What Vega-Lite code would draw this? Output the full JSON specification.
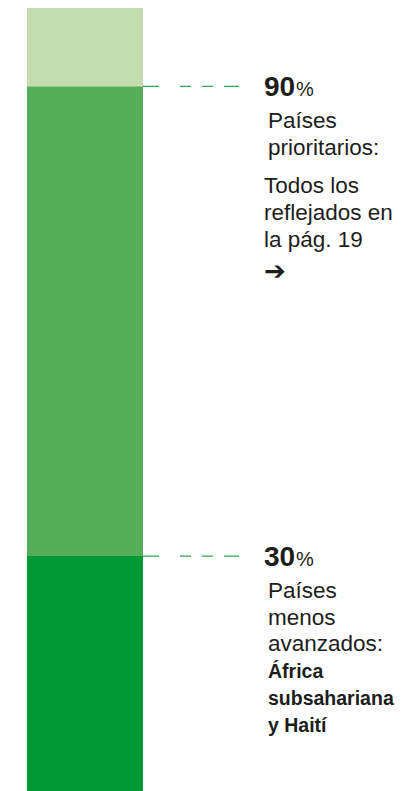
{
  "$schema": "https://vega.github.io/schema/vega-lite/v6.json",
  "width": 402,
  "height": 791,
  "autosize": {"type": "fit", "contains": "padding"},
  "padding": {"top": 8, "left": 0, "right": 0, "bottom": 0},
  "background": "white",
  "config": {"view": {"stroke": null}, "text": {"font": "Liberation Sans", "color": "#1d1d1b"}},
  "datasets": {
    "segments": [
      {"segment": "Países menos avanzados", "from": 0, "to": 30},
      {"segment": "Otros países prioritarios", "from": 30, "to": 90},
      {"segment": "Resto", "from": 90, "to": 100}
    ],
    "levels": [
      {"share": 90, "value": "90"},
      {"share": 30, "value": "30"}
    ],
    "notes": [
      {"share": 90, "role": "desc", "text": ["Países", "prioritarios:"]},
      {"share": 90, "role": "detail", "text": ["Todos los", "reflejados en", "la pág. 19"]},
      {"share": 90, "role": "arrow", "text": "➔"},
      {"share": 30, "role": "desc", "text": ["Países", "menos", "avanzados:"]},
      {"share": 30, "role": "emph", "text": ["África", "subsahariana", "y Haití"]}
    ]
  },
  "resolve": {"scale": {"x": "shared", "y": "shared"}},
  "layer": [
    {
      "data": {"name": "segments"},
      "mark": {"type": "rect"},
      "encoding": {
        "x": {"datum": 27, "type": "quantitative", "scale": {"domain": [0, 402], "nice": false, "zero": false}, "axis": null},
        "x2": {"datum": 143},
        "y": {"field": "from", "type": "quantitative", "scale": {"domain": [0, 100], "nice": false}, "axis": null},
        "y2": {"field": "to"},
        "color": {"field": "segment", "type": "nominal", "legend": null,
          "scale": {"domain": ["Países menos avanzados", "Otros países prioritarios", "Resto"], "range": ["#009933", "#55ad5a", "#c4ddb0"]}}
      }
    },
    {
      "data": {"name": "levels"},
      "mark": {"type": "rule", "stroke": "#2ea84a", "strokeWidth": 1.2, "strokeDash": [16, 21, 11, 11, 11, 11, 15, 100]},
      "encoding": {
        "x": {"datum": 143, "type": "quantitative"},
        "x2": {"datum": 239},
        "y": {"field": "share", "type": "quantitative"}
      }
    },
    {
      "data": {"name": "levels"},
      "mark": {"type": "text", "align": "left", "baseline": "alphabetic", "fontSize": 28, "fontWeight": "bold", "dy": 10},
      "encoding": {
        "x": {"datum": 264, "type": "quantitative"},
        "y": {"field": "share", "type": "quantitative"},
        "text": {"field": "value"}
      }
    },
    {
      "data": {"name": "levels"},
      "mark": {"type": "text", "align": "left", "baseline": "alphabetic", "fontSize": 20, "dy": 10},
      "encoding": {
        "x": {"datum": 296, "type": "quantitative"},
        "y": {"field": "share", "type": "quantitative"},
        "text": {"value": "%"}
      }
    },
    {
      "data": {"name": "notes"},
      "transform": [{"filter": "datum.role === 'desc'"}],
      "mark": {"type": "text", "align": "left", "baseline": "alphabetic", "fontSize": 22.5, "lineHeight": 26.6, "dy": 42},
      "encoding": {
        "x": {"datum": 268, "type": "quantitative"},
        "y": {"field": "share", "type": "quantitative"},
        "text": {"field": "text"}
      }
    },
    {
      "data": {"name": "notes"},
      "transform": [{"filter": "datum.role === 'detail'"}],
      "mark": {"type": "text", "align": "left", "baseline": "alphabetic", "fontSize": 22.5, "lineHeight": 26.8, "dy": 106.7},
      "encoding": {
        "x": {"datum": 264, "type": "quantitative"},
        "y": {"field": "share", "type": "quantitative"},
        "text": {"field": "text"}
      }
    },
    {
      "data": {"name": "notes"},
      "transform": [{"filter": "datum.role === 'arrow'"}],
      "mark": {"type": "text", "align": "left", "baseline": "middle", "fontSize": 26, "fontWeight": "bold", "font": "DejaVu Sans", "dy": 185.7},
      "encoding": {
        "x": {"datum": 264, "type": "quantitative"},
        "y": {"field": "share", "type": "quantitative"},
        "text": {"field": "text"}
      }
    },
    {
      "data": {"name": "notes"},
      "transform": [{"filter": "datum.role === 'emph'"}],
      "mark": {"type": "text", "align": "left", "baseline": "alphabetic", "fontSize": 19.5, "fontWeight": "bold", "lineHeight": 26.7, "dy": 122.3},
      "encoding": {
        "x": {"datum": 268, "type": "quantitative"},
        "y": {"field": "share", "type": "quantitative"},
        "text": {"field": "text"}
      }
    }
  ]
}
